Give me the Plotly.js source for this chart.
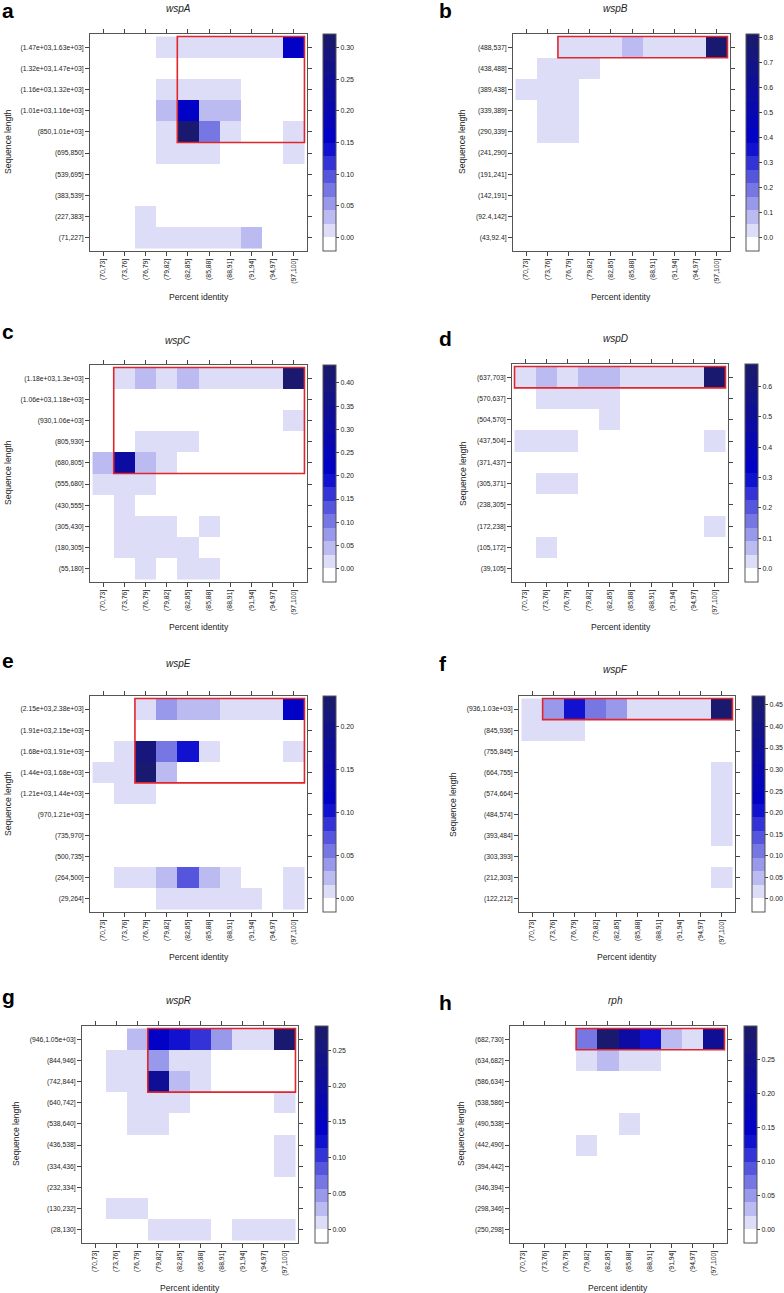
<!DOCTYPE html>
<html>
<head>
<meta charset="utf-8">
<script src="https://cdn.plot.ly/plotly-3.0.1.min.js"></script>
<style>
  html, body { margin: 0; padding: 0; background: #ffffff; }
  #chart { width: 784px; height: 1293px; }
</style>
</head>
<body>
<div id="chart"></div>
<script>
// ---------------- DATA ----------------
const identityBins = ["(70,73]","(73,76]","(76,79]","(79,82]","(82,85]","(85,88]","(88,91]","(91,94]","(94,97]","(97,100]"];

// Each gene: sequence-length bins (bottom -> top) and proportions (rows bottom -> top, columns = identityBins)
const wspA_len = ["(71,227]","(227,383]","(383,539]","(539,695]","(695,850]","(850,1.01e+03]","(1.01e+03,1.16e+03]","(1.16e+03,1.32e+03]","(1.32e+03,1.47e+03]","(1.47e+03,1.63e+03]"];
const wspA_val = [
  [0,0,0.01,0.01,0.01,0.01,0.01,0.03,0,0],
  [0,0,0.01,0,0,0,0,0,0,0],
  [0,0,0,0,0,0,0,0,0,0],
  [0,0,0,0,0,0,0,0,0,0],
  [0,0,0,0.01,0.01,0.01,0,0,0,0.01],
  [0,0,0,0.01,0.30,0.075,0.01,0,0,0.01],
  [0,0,0,0.03,0.16,0.03,0.03,0,0,0],
  [0,0,0,0.01,0.01,0.01,0.01,0,0,0],
  [0,0,0,0,0,0,0,0,0,0],
  [0,0,0,0.01,0.01,0.01,0.01,0.01,0.01,0.165]
];
const wspA_box = ["(82,85]","(97,100]","(850,1.01e+03]","(1.47e+03,1.63e+03]"];

const wspB_len = ["(43,92.4]","(92.4,142]","(142,191]","(191,241]","(241,290]","(290,339]","(339,389]","(389,438]","(438,488]","(488,537]"];
const wspB_val = [
  [0,0,0,0,0,0,0,0,0,0],
  [0,0,0,0,0,0,0,0,0,0],
  [0,0,0,0,0,0,0,0,0,0],
  [0,0,0,0,0,0,0,0,0,0],
  [0,0,0,0,0,0,0,0,0,0],
  [0,0.02,0.02,0,0,0,0,0,0,0],
  [0,0.02,0.02,0,0,0,0,0,0,0],
  [0.02,0.02,0.02,0,0,0,0,0,0,0],
  [0,0.02,0.02,0.02,0,0,0,0,0,0],
  [0,0,0.02,0.02,0.02,0.08,0.02,0.02,0.02,0.76]
];
const wspB_box = ["(76,79]","(97,100]","(488,537]","(488,537]"];

const wspC_len = ["(55,180]","(180,305]","(305,430]","(430,555]","(555,680]","(680,805]","(805,930]","(930,1.06e+03]","(1.06e+03,1.18e+03]","(1.18e+03,1.3e+03]"];
const wspC_val = [
  [0,0,0.015,0,0.015,0.015,0,0,0,0],
  [0,0.015,0.015,0.015,0.015,0,0,0,0,0],
  [0,0.015,0.015,0.015,0,0.015,0,0,0,0],
  [0,0.015,0,0,0,0,0,0,0,0],
  [0.015,0.015,0.015,0,0,0,0,0,0,0],
  [0.04,0.30,0.04,0.015,0,0,0,0,0,0],
  [0,0,0.015,0.015,0.015,0,0,0,0,0],
  [0,0,0,0,0,0,0,0,0,0.015],
  [0,0,0,0,0,0,0,0,0,0],
  [0,0.015,0.04,0.015,0.04,0.015,0.015,0.015,0.015,0.41]
];
const wspC_box = ["(73,76]","(97,100]","(680,805]","(1.18e+03,1.3e+03]"];

const wspD_len = ["(39,105]","(105,172]","(172,238]","(238,305]","(305,371]","(371,437]","(437,504]","(504,570]","(570,637]","(637,703]"];
const wspD_val = [
  [0,0,0,0,0,0,0,0,0,0],
  [0,0.02,0,0,0,0,0,0,0,0],
  [0,0,0,0,0,0,0,0,0,0.02],
  [0,0,0,0,0,0,0,0,0,0],
  [0,0.02,0.02,0,0,0,0,0,0,0],
  [0,0,0,0,0,0,0,0,0,0],
  [0.02,0.02,0.02,0,0,0,0,0,0,0.02],
  [0,0,0,0,0.02,0,0,0,0,0],
  [0,0.02,0.02,0.02,0.02,0,0,0,0,0],
  [0.02,0.06,0.02,0.06,0.06,0.02,0.02,0.02,0.02,0.63]
];
const wspD_box = ["(70,73]","(97,100]","(637,703]","(637,703]"];

const wspE_len = ["(29,264]","(264,500]","(500,735]","(735,970]","(970,1.21e+03]","(1.21e+03,1.44e+03]","(1.44e+03,1.68e+03]","(1.68e+03,1.91e+03]","(1.91e+03,2.15e+03]","(2.15e+03,2.38e+03]"];
const wspE_val = [
  [0,0,0,0.008,0.008,0.008,0.008,0.008,0,0.008],
  [0,0.008,0.008,0.024,0.07,0.024,0.008,0,0,0.008],
  [0,0,0,0,0,0,0,0,0,0],
  [0,0,0,0,0,0,0,0,0,0],
  [0,0,0,0,0,0,0,0,0,0],
  [0,0.008,0.008,0,0,0,0,0,0,0],
  [0.008,0.008,0.22,0.024,0,0,0,0,0,0],
  [0,0.008,0.21,0.055,0.11,0.008,0,0,0,0.008],
  [0,0,0,0,0,0,0,0,0,0],
  [0,0,0.008,0.04,0.024,0.024,0.008,0.008,0.008,0.125]
];
const wspE_box = ["(76,79]","(97,100]","(1.44e+03,1.68e+03]","(2.15e+03,2.38e+03]"];

const wspF_len = ["(122,212]","(212,303]","(303,393]","(393,484]","(484,574]","(574,664]","(664,755]","(755,845]","(845,936]","(936,1.03e+03]"];
const wspF_val = [
  [0,0,0,0,0,0,0,0,0,0],
  [0,0,0,0,0,0,0,0,0,0.015],
  [0,0,0,0,0,0,0,0,0,0],
  [0,0,0,0,0,0,0,0,0,0.015],
  [0,0,0,0,0,0,0,0,0,0.015],
  [0,0,0,0,0,0,0,0,0,0.015],
  [0,0,0,0,0,0,0,0,0,0.015],
  [0,0,0,0,0,0,0,0,0,0],
  [0.015,0.015,0.015,0,0,0,0,0,0,0],
  [0.015,0.08,0.22,0.11,0.08,0.015,0.015,0.015,0.015,0.44]
];
const wspF_box = ["(73,76]","(97,100]","(936,1.03e+03]","(936,1.03e+03]"];

const wspR_len = ["(28,130]","(130,232]","(232,334]","(334,436]","(436,538]","(538,640]","(640,742]","(742,844]","(844,946]","(946,1.05e+03]"];
const wspR_val = [
  [0,0,0,0.01,0.01,0.01,0,0.01,0.01,0.01],
  [0,0.01,0.01,0,0,0,0,0,0,0],
  [0,0,0,0,0,0,0,0,0,0],
  [0,0,0,0,0,0,0,0,0,0.01],
  [0,0,0,0,0,0,0,0,0,0.01],
  [0,0,0.01,0.01,0,0,0,0,0,0],
  [0,0,0.01,0.01,0.01,0,0,0,0,0.01],
  [0,0.01,0.01,0.22,0.03,0.01,0,0,0,0],
  [0,0.01,0.01,0.048,0.01,0.01,0,0,0,0],
  [0,0,0.03,0.145,0.125,0.10,0.048,0.01,0.01,0.265]
];
const wspR_box = ["(79,82]","(97,100]","(742,844]","(946,1.05e+03]"];

const rph_len = ["(250,298]","(298,346]","(346,394]","(394,442]","(442,490]","(490,538]","(538,586]","(586,634]","(634,682]","(682,730]"];
const rph_val = [
  [0,0,0,0,0,0,0,0,0,0],
  [0,0,0,0,0,0,0,0,0,0],
  [0,0,0,0,0,0,0,0,0,0],
  [0,0,0,0,0,0,0,0,0,0],
  [0,0,0,0.01,0,0,0,0,0,0],
  [0,0,0,0,0,0.01,0,0,0,0],
  [0,0,0,0,0,0,0,0,0,0],
  [0,0,0,0,0,0,0,0,0,0],
  [0,0,0,0.01,0.03,0.01,0.01,0,0,0],
  [0,0,0,0.07,0.28,0.205,0.125,0.035,0.01,0.23]
];
const rph_box = ["(79,82]","(97,100]","(682,730]","(682,730]"];

const geneNames = ["wspA","wspB","wspC","wspD","wspE","wspF","wspR","rph"];
const panelLetters = ["a","b","c","d","e","f","g","h"];
const xTitle = "Percent identity";
const yTitle = "Sequence length";

// ---------------- LAYOUT / STYLE ----------------
const W = 784, H = 1293;
const FONT = "'Liberation Sans', Arial, Helvetica, sans-serif";
// pixel geometry per panel: plot box [x0,x1,y0,y1], colorbar [x,y], title [x,y], letter [x,y], xtitle [x,y], ytitle [x,y], tick step/format
const geom = [
  {plot:[90,307,34,251],  cb:[323,34],  title:[178,8],    letter:[0,11],    xt:[199,297],  yt:[8,142],   dt:0.05, fmt:".2f"},
  {plot:[513,730,34,251], cb:[746,34],  title:[615,8],    letter:[437,11],  xt:[621,297],  yt:[462,142], dt:0.1,  fmt:".1f"},
  {plot:[90,307,365,582], cb:[323,365], title:[178,340],  letter:[0,332],   xt:[199,627],  yt:[8,473],   dt:0.05, fmt:".2f"},
  {plot:[512,728,364,582],cb:[745,364], title:[615,338],  letter:[437,338], xt:[621,627],  yt:[463,473], dt:0.1,  fmt:".1f"},
  {plot:[90,307,696,912], cb:[323,696], title:[178,663],  letter:[0,660],   xt:[199,957],  yt:[8,804],   dt:0.05, fmt:".2f"},
  {plot:[519,735,696,912],cb:[752,696], title:[615,669],  letter:[437,663], xt:[627,957],  yt:[453,804], dt:0.05, fmt:".2f"},
  {plot:[82,298,1026,1243],cb:[315,1026],title:[178,1000],letter:[0,996],   xt:[190,1288], yt:[16,1134], dt:0.05, fmt:".2f"},
  {plot:[510,727,1026,1243],cb:[744,1026],title:[615,1000],letter:[437,1002],xt:[618,1288],yt:[461,1134],dt:0.05, fmt:".2f"}
];

const lens = [wspA_len,wspB_len,wspC_len,wspD_len,wspE_len,wspF_len,wspR_len,rph_len];
const vals = [wspA_val,wspB_val,wspC_val,wspD_val,wspE_val,wspF_val,wspR_val,rph_val];
const boxes = [wspA_box,wspB_box,wspC_box,wspD_box,wspE_box,wspF_box,wspR_box,rph_box];

// lattice-like palette: white -> mediumblue -> midnightblue, 16 regions
const anchors = [[255,255,255],[0,0,205],[25,25,112]];
function ramp(t){
  const s = t*(anchors.length-1);
  const i = Math.min(Math.floor(s), anchors.length-2);
  const f = s - i;
  const c = anchors[i].map((v,k)=>Math.round(v + (anchors[i+1][k]-v)*f));
  return "rgb(" + c.join(",") + ")";
}
const NB = 16;
const stepScale = [];
for (let i=0;i<NB;i++){
  const col = ramp(i/(NB-1));
  stepScale.push([i/NB, col]);
  stepScale.push([(i+1)/NB, col]);
}

const px = x => x / W;
const py = y => 1 - y / H;

const data = [];
const layout = {
  width: W, height: H,
  margin: {l:0, r:0, t:0, b:0},
  paper_bgcolor: "#ffffff",
  plot_bgcolor: "#ffffff",
  font: {family: FONT, color: "#222"},
  showlegend: false,
  annotations: [],
  shapes: []
};

const axisCommon = {
  type: "category",
  showgrid: false, zeroline: false,
  showline: true, linecolor: "#555", linewidth: 1,
  mirror: "ticks",
  ticks: "outside", ticklen: 4, tickwidth: 1, tickcolor: "#444",
  tickfont: {size: 6.8, family: FONT, color: "#222"},
  fixedrange: true
};

for (let p=0;p<8;p++){
  const g = geom[p];
  const z = vals[p];
  const flat = z.flat();
  const lo = Math.min(...flat), hi = Math.max(...flat);
  const ext = 0.07*(hi-lo);
  const xa = p===0 ? "x" : "x"+(p+1);
  const ya = p===0 ? "y" : "y"+(p+1);
  const xk = p===0 ? "xaxis" : "xaxis"+(p+1);
  const yk = p===0 ? "yaxis" : "yaxis"+(p+1);

  data.push({
    type: "heatmap",
    x: identityBins, y: lens[p], z: z,
    xaxis: xa, yaxis: ya,
    zmin: lo-ext, zmax: hi+ext,
    colorscale: stepScale,
    showscale: true,
    hoverinfo: "x+y+z",
    colorbar: {
      x: px(g.cb[0]), xanchor: "left", xref: "paper",
      y: py(g.cb[1]), yanchor: "top", yref: "paper",
      len: g.plot[3]-g.plot[2], lenmode: "pixels",
      thickness: 13, thicknessmode: "pixels",
      xpad: 0, ypad: 0,
      outlinewidth: 1, outlinecolor: "#555",
      ticks: "outside", ticklen: 3, tickwidth: 1, tickcolor: "#444",
      tickmode: "linear", tick0: 0, dtick: g.dt, tickformat: g.fmt,
      tickfont: {size: 7, family: FONT, color: "#222"}
    }
  });

  layout[xk] = Object.assign({}, axisCommon, {
    anchor: ya,
    domain: [px(g.plot[0]), px(g.plot[1])],
    range: [-0.62, identityBins.length - 1 + 0.62],
    tickangle: -90,
    categoryorder: "array", categoryarray: identityBins
  });
  layout[yk] = Object.assign({}, axisCommon, {
    anchor: xa,
    domain: [py(g.plot[3]), py(g.plot[2])],
    range: [-0.62, lens[p].length - 1 + 0.62],
    categoryorder: "array", categoryarray: lens[p]
  });

  // highlight box from category bounds
  const b = boxes[p];
  const bx0 = identityBins.indexOf(b[0]) - 0.5, bx1 = identityBins.indexOf(b[1]) + 0.5;
  const by0 = lens[p].indexOf(b[2]) - 0.5, by1 = lens[p].indexOf(b[3]) + 0.5;
  layout.shapes.push({
    type: "rect", xref: xa, yref: ya,
    x0: bx0, x1: bx1, y0: by0, y1: by1,
    line: {color: "#e0262b", width: 1.6},
    fillcolor: "rgba(0,0,0,0)"
  });

  // panel letter
  layout.annotations.push({
    text: "<b>" + panelLetters[p] + "</b>",
    xref: "paper", yref: "paper", x: px(g.letter[0]), y: py(g.letter[1]),
    xanchor: "left", yanchor: "middle", showarrow: false,
    font: {size: 21, family: FONT, color: "#000"}
  });
  // gene title
  layout.annotations.push({
    text: "<i>" + geneNames[p] + "</i>",
    xref: "paper", yref: "paper", x: px(g.title[0]), y: py(g.title[1]),
    xanchor: "center", yanchor: "middle", showarrow: false,
    font: {size: 10, family: FONT, color: "#222"}
  });
  // x title
  layout.annotations.push({
    text: xTitle,
    xref: "paper", yref: "paper", x: px(g.xt[0]), y: py(g.xt[1]),
    xanchor: "center", yanchor: "middle", showarrow: false,
    font: {size: 8.6, family: FONT, color: "#222"}
  });
  // y title
  layout.annotations.push({
    text: yTitle, textangle: -90,
    xref: "paper", yref: "paper", x: px(g.yt[0]), y: py(g.yt[1]),
    xanchor: "center", yanchor: "middle", showarrow: false,
    font: {size: 8.6, family: FONT, color: "#222"}
  });
}

Plotly.newPlot("chart", data, layout, {staticPlot: true, displayModeBar: false});
</script>
</body>
</html>
